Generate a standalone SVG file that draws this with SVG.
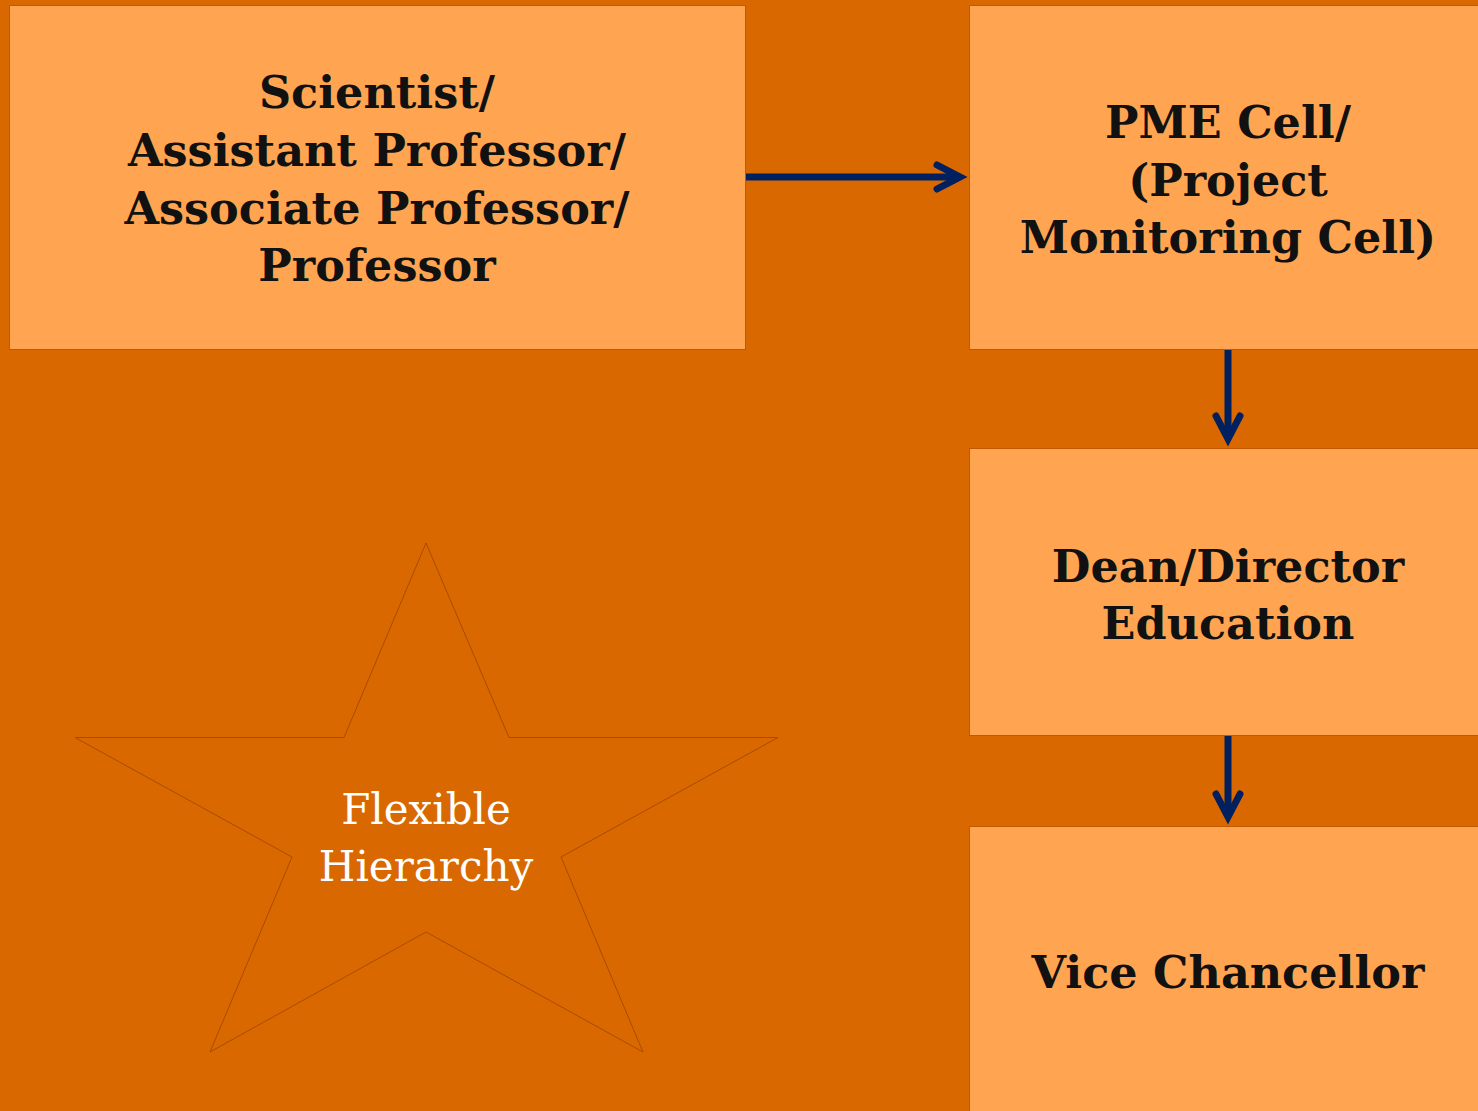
<svg xmlns="http://www.w3.org/2000/svg" width="1478" height="1111" viewBox="0 0 1478 1111">
<style>
.box{fill:#FFA552;stroke:#C45A00;stroke-width:1}
.lbl{font-family:"DejaVu Serif","Liberation Serif",serif;font-weight:bold;font-size:44.5px;fill:#111111;text-anchor:middle}
.star{fill:#DA6800;stroke:#A84C00;stroke-width:1}
.slbl{font-family:"DejaVu Serif","Liberation Serif",serif;font-size:42px;fill:#FFFFFF;text-anchor:middle}
.conn{fill:none;stroke:#002060;stroke-width:7}
</style>
<defs>
<marker id="arr" markerUnits="userSpaceOnUse" markerWidth="80" markerHeight="80" refX="0" refY="0" orient="auto" overflow="visible" viewBox="-40 -40 80 80">
<path d="M -23 -12 L 0 0 L -23 12" fill="none" stroke="#002060" stroke-width="7" stroke-linecap="round" stroke-linejoin="miter"/>
</marker>
</defs>
<rect x="0" y="0" width="1478" height="1111" fill="#DA6800"/>
<g id="n-scientist">
<rect class="box" x="9.5" y="5.5" width="736" height="344"/>
<text class="lbl" x="377" y="108">Scientist/</text>
<text class="lbl" x="377" y="166">Assistant Professor/</text>
<text class="lbl" x="377" y="224">Associate Professor/</text>
<text class="lbl" x="377" y="281">Professor</text>
</g>
<g id="n-pme">
<rect class="box" x="969.5" y="5.5" width="520" height="344"/>
<text class="lbl" x="1228" y="138">PME Cell/</text>
<text class="lbl" x="1228" y="196">(Project</text>
<text class="lbl" x="1228" y="253">Monitoring Cell)</text>
</g>
<g id="n-dean">
<rect class="box" x="969.5" y="448.5" width="520" height="287"/>
<text class="lbl" x="1228" y="582">Dean/Director</text>
<text class="lbl" x="1228" y="639">Education</text>
</g>
<g id="n-vc">
<rect class="box" x="969.5" y="826.5" width="520" height="300"/>
<text class="lbl" x="1228" y="988">Vice Chancellor</text>
</g>
<g id="n-star">
<polygon class="star" points="426,543 509,737.5 778,737.5 561,857 643,1052 426,932 210,1052 292,857 75,737.5 344,737.5"/>
<text class="slbl" x="426" y="824">Flexible</text>
<text class="slbl" x="426" y="881">Hierarchy</text>
</g>
<g id="connectors">
<path class="conn" d="M 746 177 L 960 177" marker-end="url(#arr)"/>
<path class="conn" d="M 1228 350 L 1228 439" marker-end="url(#arr)"/>
<path class="conn" d="M 1228 736 L 1228 817" marker-end="url(#arr)"/>
</g>
</svg>
